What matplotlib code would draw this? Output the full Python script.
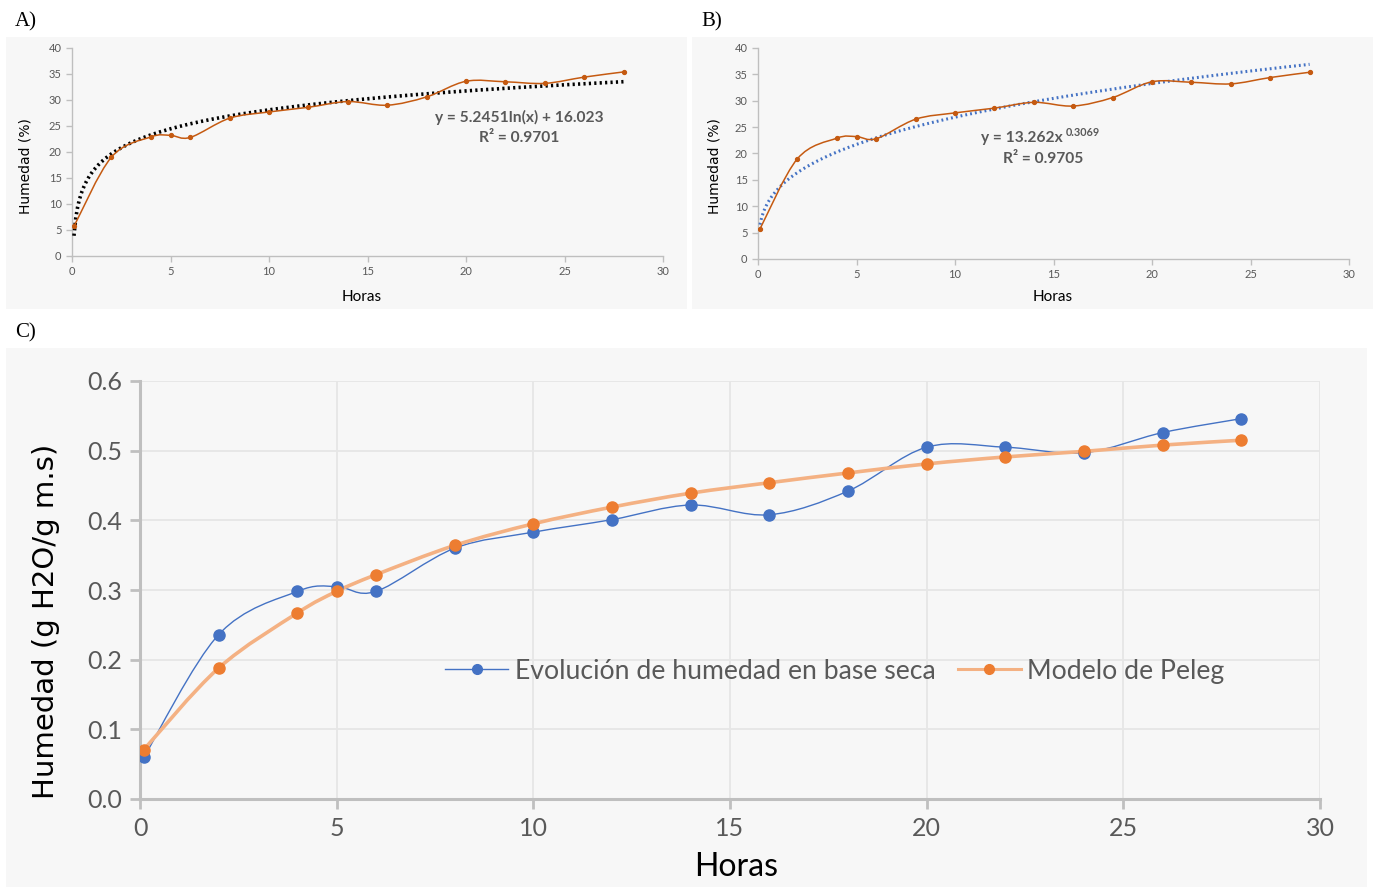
import numpy as np
import matplotlib
matplotlib.use("Agg")
import matplotlib.pyplot as plt
from matplotlib.path import Path
from matplotlib.patches import PathPatch, Rectangle

# ---------------- data ----------------
horas = [0.1, 2, 4, 5, 6, 8, 10, 12, 14, 16, 18, 20, 22, 24, 26, 28]
humedad_pct = [5.7, 19.0, 22.9, 23.2, 22.8, 26.5, 27.7, 28.6, 29.7, 29.0, 30.6,
               33.6, 33.5, 33.2, 34.4, 35.4]
humedad_bs = [0.060, 0.236, 0.298, 0.305, 0.298, 0.360, 0.383, 0.401, 0.422,
              0.408, 0.442, 0.505, 0.505, 0.497, 0.526, 0.546]
peleg = [0.071, 0.188, 0.267, 0.298, 0.322, 0.364, 0.395, 0.419, 0.439, 0.454,
         0.468, 0.481, 0.491, 0.499, 0.508, 0.515]

eq_a = "y = 5.2451ln(x) + 16.023"
r2_a = "R² = 0.9701"
eq_b = "y = 13.262x"
eq_b_exp = "0.3069"
r2_b = "R² = 0.9705"
label_c1 = "Evolución de humedad en base seca"
label_c2 = "Modelo de Peleg"

# ---------------- helpers ----------------
def smooth_path(x, y):
    """Excel-like smoothed line: Catmull-Rom converted to cubic Bezier."""
    x = np.asarray(x, float); y = np.asarray(y, float)
    n = len(x)
    verts = [(x[0], y[0])]
    codes = [Path.MOVETO]
    for i in range(n - 1):
        p0 = np.array([x[max(i - 1, 0)], y[max(i - 1, 0)]])
        p1 = np.array([x[i], y[i]])
        p2 = np.array([x[i + 1], y[i + 1]])
        p3 = np.array([x[min(i + 2, n - 1)], y[min(i + 2, n - 1)]])
        c1 = p1 + (p2 - p0) / 6.0
        c2 = p2 - (p3 - p1) / 6.0
        verts += [tuple(c1), tuple(c2), tuple(p2)]
        codes += [Path.CURVE4] * 3
    return Path(verts, codes)

GREY_TXT = "#595959"
AX_GREY = "#BFBFBF"
BG = "#F7F7F7"
ORANGE_DK = "#C55A11"
BLUE = "#4472C4"
ORANGE = "#ED7D31"
ORANGE_LT = "#F4B183"

W, H = 1373, 889
fig = plt.figure(figsize=(W / 100, H / 100), dpi=100)
fig.patch.set_facecolor("white")

def fx(px): return px / W
def fy(py): return 1 - py / H

# panel backgrounds
for (x0, y0, x1, y1) in [(6, 37, 687, 309), (692, 37, 1373, 309), (6, 348, 1367, 887)]:
    fig.patches.append(Rectangle((fx(x0), fy(y1)), fx(x1) - fx(x0), fy(y0) - fy(y1),
                                 transform=fig.transFigure, facecolor=BG,
                                 edgecolor="none", zorder=-10))

serif = ["Liberation Serif", "DejaVu Serif"]
fig.text(fx(15), fy(22), "A)", family=serif, fontsize=15, va="center", ha="left")
fig.text(fx(701), fy(22), "B)", family=serif, fontsize=15, va="center", ha="left")
fig.text(fx(15), fy(333), "C)", family=serif, fontsize=15, va="center", ha="left")

def small_axes(rect):
    ax = fig.add_axes(rect)
    ax.set_facecolor("none")
    for s in ["top", "right"]:
        ax.spines[s].set_visible(False)
    for s in ["left", "bottom"]:
        ax.spines[s].set_color(AX_GREY)
        ax.spines[s].set_linewidth(1.0)
    ax.set_xlim(0, 30)
    ax.set_ylim(0, 40)
    ax.set_xticks(range(0, 31, 5))
    ax.set_yticks(range(0, 41, 5))
    ax.tick_params(direction="out", length=4, width=1, color=AX_GREY,
                   labelcolor=GREY_TXT, labelsize=8)
    for lab in ax.get_xticklabels() + ax.get_yticklabels():
        lab.set_family("Lato")
    ax.set_xlabel("Horas", family="Lato", fontsize=11, color="black")
    ax.set_ylabel("Humedad (%)", family="DejaVu Sans", fontsize=10, color="black")
    return ax

# ---------------- panel A ----------------
axA = small_axes([fx(72), fy(256), fx(663) - fx(72), fy(48) - fy(256)])
axA.xaxis.set_label_coords(0.49, -0.163)
axA.yaxis.set_label_coords(-0.066, 0.433)
xs = np.asarray(horas, float)
ys = np.asarray(humedad_pct, float)
coefA = np.polyfit(np.log(xs), ys, 1)
xt = np.linspace(xs.min(), xs.max(), 300)
axA.plot(xt, coefA[0] * np.log(xt) + coefA[1], color="black", lw=2.6,
         linestyle=(0, (0.6, 0.9)), zorder=3)
axA.add_patch(PathPatch(smooth_path(horas, humedad_pct), facecolor="none",
                        edgecolor=ORANGE_DK, lw=1.1, zorder=4))
axA.plot(horas, humedad_pct, "o", ms=2.8, color=ORANGE_DK, zorder=5)
axA.text(22.7, 26.7, eq_a, family="Lato", fontweight="bold", fontsize=11.2,
         color=GREY_TXT, ha="center", va="center")
axA.text(22.7, 22.7, r2_a, family="Lato", fontweight="bold", fontsize=11.2,
         color=GREY_TXT, ha="center", va="center")

# ---------------- panel B ----------------
axB = small_axes([fx(758), fy(259), fx(1349) - fx(758), fy(48) - fy(259)])
axB.xaxis.set_label_coords(0.499, -0.147)
axB.yaxis.set_label_coords(-0.061, 0.44)
coefB = np.polyfit(np.log(xs), np.log(ys), 1)
axB.plot(xt, np.exp(coefB[1]) * xt ** coefB[0], color=BLUE, lw=2.2,
         linestyle=(0, (0.6, 1.0)), zorder=3)
axB.add_patch(PathPatch(smooth_path(horas, humedad_pct), facecolor="none",
                        edgecolor=ORANGE_DK, lw=1.1, zorder=4))
axB.plot(horas, humedad_pct, "o", ms=2.8, color=ORANGE_DK, zorder=5)
axB.text(15.45, 22.9, eq_b, family="Lato", fontweight="bold", fontsize=11.2,
         color=GREY_TXT, ha="right", va="center")
axB.text(15.6, 24.0, eq_b_exp, family="Lato", fontweight="bold", fontsize=7.8,
         color=GREY_TXT, ha="left", va="center")
axB.text(14.5, 19.0, r2_b, family="Lato", fontweight="bold", fontsize=11.2,
         color=GREY_TXT, ha="center", va="center")

# ---------------- panel C ----------------
axC = fig.add_axes([fx(140), fy(799), fx(1320) - fx(140), fy(381) - fy(799)])
axC.set_facecolor("none")
axC.set_xlim(0, 30)
axC.set_ylim(0, 0.6)
axC.set_xticks(range(0, 31, 5))
axC.set_yticks(np.arange(0, 0.61, 0.1))
axC.set_yticklabels([f"{v:.1f}" for v in np.arange(0, 0.61, 0.1)])
axC.grid(True, color="#E6E6E6", lw=1.3, zorder=0)
axC.set_axisbelow(True)
for s in ["top", "right"]:
    axC.spines[s].set_visible(False)
for s in ["left", "bottom"]:
    axC.spines[s].set_color(AX_GREY)
    axC.spines[s].set_linewidth(2.2)
axC.tick_params(direction="out", length=7, width=2, color=AX_GREY,
                labelcolor=GREY_TXT, labelsize=18, pad=6)
for lab in axC.get_xticklabels() + axC.get_yticklabels():
    lab.set_family("Lato")
axC.set_xlabel("Horas", family="Lato", fontsize=23, color="black")
axC.set_ylabel("Humedad (g H2O/g m.s)", family="DejaVu Sans", fontsize=21,
               color="black")
axC.xaxis.set_label_coords(0.505, -0.127)
axC.yaxis.set_label_coords(-0.0678, 0.426)

axC.add_patch(PathPatch(smooth_path(horas, humedad_bs), facecolor="none",
                        edgecolor=BLUE, lw=1.0, zorder=3))
axC.plot(horas, humedad_bs, "o", ms=8, color=BLUE, zorder=5)
axC.add_patch(PathPatch(smooth_path(horas, peleg), facecolor="none",
                        edgecolor=ORANGE_LT, lw=2.6, zorder=4))
axC.plot(horas, peleg, "o", ms=8, color=ORANGE, zorder=6)

h1, = axC.plot([], [], "-o", color=BLUE, lw=1.0, ms=7,
               markerfacecolor=BLUE, markeredgecolor=BLUE)
h2, = axC.plot([], [], "-", color=ORANGE_LT, lw=2.2, marker="o", ms=7,
               markerfacecolor=ORANGE, markeredgecolor=ORANGE)
leg = axC.legend([h1, h2], [label_c1, label_c2], loc="center",
                 bbox_to_anchor=(0.589, 0.306), ncol=2, frameon=False,
                 prop={"family": "Lato", "size": 19.2}, handlelength=2.35,
                 handletextpad=0.25, columnspacing=0.85, labelcolor=GREY_TXT)

fig.savefig("out.png", dpi=100)
